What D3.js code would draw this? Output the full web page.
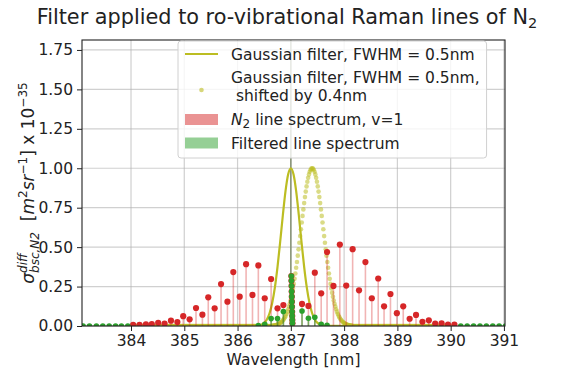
<!DOCTYPE html>
<html><head><meta charset="utf-8">
<script src="https://cdn.jsdelivr.net/npm/d3@7"></script>
<style>body{margin:0;background:#fff}text{font-family:"DejaVu Sans",sans-serif}</style>
</head><body><svg id="c" width="565" height="376"></svg>
<script>
// ---------- data ----------
const xTicks = [384, 385, 386, 387, 388, 389, 390, 391];
const yTicks = [0, 0.25, 0.5, 0.75, 1.0, 1.25, 1.5, 1.75];

// N2 line spectrum (O, Q, S branches)
const redWl = [384.04,384.16,384.28,384.39,384.51,384.63,384.75,384.87,384.98,385.10,385.22,385.34,385.45,385.57,385.69,385.81,385.92,386.04,386.16,386.28,386.39,386.51,386.63,386.75,386.86,
  387.010,387.012,387.014,387.016,387.018,387.020,387.022,387.024,387.026,387.028,387.030,
  387.21,387.33,387.45,387.57,387.68,387.80,387.92,388.04,388.16,388.28,388.40,388.52,388.64,388.75,388.87,388.99,389.11,389.23,389.35,389.47,389.59,389.71,389.83,389.95,390.07];
const redVal = [0.008,0.008,0.011,0.012,0.020,0.016,0.034,0.025,0.062,0.042,0.114,0.072,0.182,0.112,0.266,0.154,0.342,0.186,0.392,0.197,0.384,0.176,0.298,0.112,0.133,
  0.317,0.287,0.254,0.218,0.186,0.154,0.122,0.090,0.063,0.038,0.017,
  0.140,0.127,0.338,0.207,0.469,0.254,0.516,0.256,0.487,0.226,0.405,0.176,0.301,0.125,0.203,0.081,0.125,0.046,0.070,0.027,0.036,0.016,0.017,0.009,0.009];

// filtered line spectrum
const greenWl = [383.10,383.22,383.35,383.47,383.59,383.71,383.82,383.94,
  386.39,386.51,386.63,386.75,386.86,
  387.010,387.012,387.014,387.016,387.018,387.020,387.022,387.024,387.026,387.028,387.030,
  387.21,387.33,387.45,387.57,387.68,
  390.19,390.31,390.43,390.55,390.67,390.79,390.91,391.03];
const greenVal = [0,0,0,0,0,0,0,0,
  0.003,0.011,0.047,0.047,0.092,
  0.317,0.287,0.254,0.218,0.186,0.154,0.122,0.090,0.063,0.038,0.017,
  0.095,0.049,0.055,0.011,0.004,
  0,0,0,0,0,0,0,0];

// Gaussian filter (solid), sampled
const gaussWl = [384.0,386.30,386.35,386.40,386.45,386.50,386.55,386.60,386.65,386.70,386.75,386.80,386.85,386.90,386.95,387.00,387.05,387.10,387.15,387.20,387.25,387.30,387.35,387.40,387.45,387.50,387.55,387.60,387.65,387.70,390.0];
const gaussVal = [0,0.0005,0.0013,0.0035,0.0087,0.0197,0.0416,0.081,0.146,0.243,0.375,0.534,0.702,0.855,0.962,1.0,0.962,0.855,0.702,0.534,0.375,0.243,0.146,0.081,0.0416,0.0197,0.0087,0.0035,0.0013,0.0005,0];

// Shifted Gaussian filter (dots): peak part from 386.65, step 0.015; flat zero elsewhere in 384..390
const shiftedPeakStart = 386.65, shiftedStep = 0.015;
const shiftedPeakVal = [0.002,0.003,0.003,0.004,0.005,0.006,0.008,0.010,0.012,0.015,0.019,0.023,0.027,0.033,0.039,0.047,0.056,0.066,0.078,0.091,
  0.106,0.123,0.141,0.162,0.185,0.210,0.238,0.267,0.299,0.333,0.369,0.406,0.446,0.486,0.528,0.570,0.613,0.656,0.698,0.739,
  0.779,0.817,0.852,0.885,0.914,0.940,0.961,0.978,0.990,0.9975,1.0,0.9975,0.990,0.978,0.961,0.940,0.914,0.885,0.852,0.817,0.779,
  0.739,0.698,0.656,0.613,0.570,0.528,0.486,0.446,0.406,0.369,0.333,0.299,0.267,0.238,0.210,0.185,0.162,0.141,0.123,0.106,
  0.091,0.078,0.066,0.056,0.047,0.039,0.033,0.027,0.023,0.019,0.015,0.012,0.010,0.008,0.006,0.005,0.004,0.003,0.003,0.002];
const shiftedRange = [384, 390];
const filterCenter = 387;

// ---------- layout ----------
const svg = d3.select('#c');
const M = {l: 82, r: 505, t: 40, b: 326};
const x = d3.scaleLinear().domain([383.08, 391.02]).range([M.l, M.r]);
const y = d3.scaleLinear().domain([0, 1.813]).range([M.b, M.t]);
const FS = 15.5;

svg.append('defs').append('clipPath').attr('id','clip')
  .append('rect').attr('x',M.l).attr('y',M.t).attr('width',M.r-M.l).attr('height',M.b-M.t);

// grid
const grid = svg.append('g').attr('stroke','#b0b0b0').attr('stroke-opacity',0.6).attr('stroke-width',1.2);
xTicks.forEach(t => grid.append('line').attr('x1',x(t)).attr('x2',x(t)).attr('y1',M.t).attr('y2',M.b));
yTicks.forEach(t => grid.append('line').attr('x1',M.l).attr('x2',M.r).attr('y1',y(t)).attr('y2',y(t)));

const plot = svg.append('g').attr('clip-path','url(#clip)');

// vertical line at filter centre
plot.append('line').attr('x1',x(filterCenter)).attr('x2',x(filterCenter)).attr('y1',M.t).attr('y2',M.b)
  .attr('stroke','#8a967a').attr('stroke-width',1.6);

// Gaussian solid
const gauss = gaussWl.map((w,i)=>[w,gaussVal[i]]);
plot.append('path').datum(gauss)
  .attr('d', d3.line().x(d=>x(d[0])).y(d=>y(d[1])).curve(d3.curveMonotoneX))
  .attr('fill','none').attr('stroke','#bcbd22').attr('stroke-width',2.2);

// shifted dots
const shifted = shiftedPeakVal.map((v,i)=>[shiftedPeakStart + i*shiftedStep, v]);
const peakEnd = shiftedPeakStart + (shiftedPeakVal.length-1)*shiftedStep;
d3.range(shiftedRange[0], shiftedPeakStart - 1e-9, shiftedStep).forEach(w=>shifted.push([w,0]));
d3.range(peakEnd + shiftedStep, shiftedRange[1] + 1e-9, shiftedStep).forEach(w=>shifted.push([w,0]));
plot.append('g').selectAll('circle').data(shifted).join('circle')
  .attr('cx',d=>x(d[0])).attr('cy',d=>y(d[1])).attr('r',2.3)
  .attr('fill','#bcbd22').attr('fill-opacity',0.55);

// red stems
const red = redWl.map((w,i)=>[w,redVal[i]]);
plot.append('g').selectAll('line').data(red).join('line')
  .attr('x1',d=>x(d[0])).attr('x2',d=>x(d[0])).attr('y1',y(0)).attr('y2',d=>y(d[1]))
  .attr('stroke','#d62728').attr('stroke-opacity',0.35).attr('stroke-width',1.6);
plot.append('g').selectAll('circle').data(red).join('circle')
  .attr('cx',d=>x(d[0])).attr('cy',d=>y(d[1])).attr('r',3.1).attr('fill','#d62728');

// green stems
const green = greenWl.map((w,i)=>[w,greenVal[i]]);
plot.append('g').selectAll('line').data(green).join('line')
  .attr('x1',d=>x(d[0])).attr('x2',d=>x(d[0])).attr('y1',y(0)).attr('y2',d=>y(d[1]))
  .attr('stroke','#2ca02c').attr('stroke-opacity',0.6).attr('stroke-width',1.6);
plot.append('g').selectAll('circle').data(green).join('circle')
  .attr('cx',d=>x(d[0])).attr('cy',d=>y(d[1])).attr('r',2.8).attr('fill','#2ca02c');

// frame
svg.append('rect').attr('x',M.l).attr('y',M.t).attr('width',M.r-M.l).attr('height',M.b-M.t)
  .attr('fill','none').attr('stroke','#222').attr('stroke-width',1.1);

// axes
const xa = svg.append('g').attr('transform',`translate(0,${M.b})`)
  .call(d3.axisBottom(x).tickValues(xTicks).tickFormat(d3.format('d')).tickSizeOuter(0).tickSize(5).tickPadding(4));
const ya = svg.append('g').attr('transform',`translate(${M.l},0)`)
  .call(d3.axisLeft(y).tickValues(yTicks).tickFormat(d3.format('.2f')).tickSizeOuter(0).tickSize(5).tickPadding(4));
[xa,ya].forEach(a=>{a.select('.domain').remove();
  a.selectAll('text').attr('font-size',FS).attr('fill','#222').attr('font-family','DejaVu Sans');
  a.selectAll('line').attr('stroke','#222');});

// title
const tt = svg.append('text').attr('x',287).attr('y',24).attr('text-anchor','middle').attr('font-size',20.8).attr('fill','#222');
tt.append('tspan').text('Filter applied to ro-vibrational Raman lines of N');
tt.append('tspan').attr('font-size',14.5).attr('dy',4).text('2');

// x label
svg.append('text').attr('x',293.5).attr('y',365).attr('text-anchor','middle').attr('font-size',FS).attr('fill','#222').text('Wavelength [nm]');

// y label
const yg = svg.append('g').attr('transform','translate(34,183) rotate(-90)');
const LF = 17;
const yl = yg.append('text').attr('font-size',LF).attr('fill','#222').attr('xml:space','preserve');
const sm = 12;
yl.append('tspan').attr('font-style','italic').text('σ');
const sup = yl.append('tspan').attr('font-size',sm).attr('font-style','italic').attr('dy',-7.5).text('diff');
const supW = sup.node().getComputedTextLength();
yl.append('tspan').attr('font-size',sm).attr('font-style','italic').attr('dx',-supW).attr('dy',12).text('bsc,N2');
yl.append('tspan').attr('dy',-4.5).text('\u00a0\u00a0[');
yl.append('tspan').attr('font-style','italic').text('m');
yl.append('tspan').attr('font-size',sm).attr('dy',-7.5).text('2');
yl.append('tspan').attr('font-style','italic').attr('dy',7.5).text('sr');
yl.append('tspan').attr('font-size',sm).attr('dy',-7.5).text('−1');
yl.append('tspan').attr('dy',7.5).text('] x 10');
yl.append('tspan').attr('font-size',sm).attr('dy',-7.5).text('−35');
const yb = yl.node().getBBox();
yl.attr('x', -yb.width/2);

// legend
const lg = svg.append('g');
const box = lg.append('rect').attr('x',178).attr('y',41).attr('height',117).attr('rx',3)
  .attr('fill','#fff').attr('fill-opacity',0.8).attr('stroke','#d0d0d0');
const tx = 231;
lg.append('line').attr('x1',185).attr('x2',218).attr('y1',54).attr('y2',54).attr('stroke','#bcbd22').attr('stroke-width',2.2);
lg.append('circle').attr('cx',201.5).attr('cy',90).attr('r',2.3).attr('fill','#bcbd22').attr('fill-opacity',0.6);
lg.append('rect').attr('x',185).attr('y',114).attr('width',33).attr('height',11).attr('fill','#d62728').attr('fill-opacity',0.5);
lg.append('rect').attr('x',185).attr('y',137.5).attr('width',33).attr('height',11).attr('fill','#2ca02c').attr('fill-opacity',0.5);
const lt = (yy, s) => lg.append('text').attr('x',tx).attr('y',yy).attr('font-size',FS).attr('fill','#222').text(s);
lt(59.5,'Gaussian filter, FWHM = 0.5nm');
const t2 = lt(83,'Gaussian filter, FWHM = 0.5nm,');
lt(101,'\u00a0shifted by 0.4nm');
const t3 = lg.append('text').attr('x',tx).attr('y',125).attr('font-size',FS).attr('fill','#222');
t3.append('tspan').attr('font-style','italic').text('N');
t3.append('tspan').attr('font-size',sm).attr('dy',3).text('2');
t3.append('tspan').attr('dy',-3).text(' line spectrum, v=1');
lt(148.5,'Filtered line spectrum');
const wmax = t2.node().getComputedTextLength();
box.attr('width', tx + wmax + 7 - 178);
</script></body></html>
